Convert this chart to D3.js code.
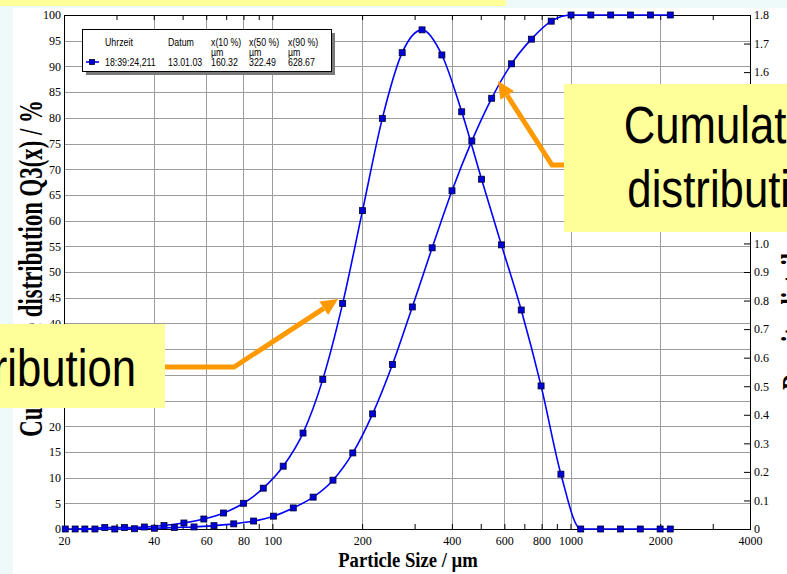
<!DOCTYPE html>
<html>
<head>
<meta charset="utf-8">
<script src="https://cdn.jsdelivr.net/npm/d3@7"></script>
<style>
  body { margin: 0; background: #eef9f9; }
  svg { display: block; }
</style>
</head>
<body>
<svg id="chart" width="787" height="574"></svg>
<script>
// ---- Measured particle size distribution ----
// Cumulative distribution Q3(x), % (left axis), at upper class limits
const cumSizes = [21.8, 25.4, 29.6, 34.5, 40.2, 46.9, 54.6, 63.7, 74.2, 86.5, 100.8, 117.5, 137.0, 159.7,
  186.1, 216.9, 252.8, 294.7, 343.5, 400.4, 466.7, 544.0, 634.1, 739.1, 861.5, 1004, 1170, 1364, 1590, 1854, 2161];
const cumValues = [0, 0, 0, 0.05, 0.15, 0.3, 0.4, 0.65, 1.0, 1.55, 2.5, 4.1, 6.2, 9.5,
  14.8, 22.4, 32.0, 43.2, 54.7, 65.8, 75.5, 83.8, 90.5, 95.3, 98.8, 100, 100, 100, 100, 100, 100];

// Density distribution q3 (right axis), at class midpoints
const densSizes = [20.2, 23.5, 27.4, 31.9, 37.2, 43.3, 50.5, 58.9, 68.6, 80.0, 93.2, 108.7, 126.7, 147.6,
  172.1, 200.6, 233.8, 272.5, 317.7, 370.3, 431.6, 503.1, 586.4, 683.5, 796.7, 928.6, 1082, 1262, 1471, 1714, 1998, 2161];
const densValues = [0, 0, 0.005, 0.005, 0.007, 0.012, 0.021, 0.035, 0.056, 0.090, 0.143, 0.220, 0.336, 0.524,
  0.790, 1.115, 1.438, 1.668, 1.748, 1.660, 1.461, 1.225, 0.995, 0.767, 0.501, 0.192, 0, 0, 0, 0, 0, 0];

// Axis ticks
const xLabelTicks = [20, 40, 60, 80, 100, 200, 400, 600, 800, 1000, 2000, 4000];
const xMinorTicks = [30, 50, 70, 90, 300, 500, 700, 900, 3000];
const xGridValues = [40, 60, 80, 100, 200, 400, 600, 800, 1000, 2000];
const cumTicks = d3.range(0, 101, 5);
const densTicks = d3.range(0, 19).map(i => i / 10);

// Legend table
const legendHeaders = ["Uhrzeit", "Datum", "x(10 %)", "x(50 %)", "x(90 %)"];
const legendUnits = ["", "", "µm", "µm", "µm"];
const legendRow = ["18:39:24,211", "13.01.03", "160.32", "322.49", "628.67"];

// Titles and callouts
const xTitle = "Particle Size / µm";
const leftTitle = "Cumulative distribution Q3(x) / %";
const rightTitle = "Density distribution q3lg(x)";
const calloutLeft = ["Density distribution"];
const calloutRight = ["Cumulative", "distribution"];

// ---- Drawing ----
const W = 787, H = 574;
const plot = { left: 64, right: 750, top: 15, bottom: 529 };
const serif = "'Liberation Serif','Times New Roman',serif";
const sans = "'Liberation Sans',Arial,sans-serif";
const blue = "#0000ff";
const orange = "#ff9900";
const yellow = "#ffff99";

const svg = d3.select("#chart");

// slide background
svg.append("rect").attr("width", W).attr("height", H).attr("fill", "#eef9f9");
svg.append("rect").attr("x", 0).attr("y", 0).attr("width", 506).attr("height", 6).attr("fill", yellow);
svg.append("rect").attr("x", 13).attr("y", 8).attr("width", W - 13).attr("height", H - 8).attr("fill", "#ffffff");

const x = d3.scaleLog().domain([20, 4000]).range([plot.left, plot.right]);
const yL = d3.scaleLinear().domain([0, 100]).range([plot.bottom, plot.top]);
const yR = d3.scaleLinear().domain([0, 1.8]).range([plot.bottom, plot.top]);

// grid
const grid = svg.append("g").attr("stroke", "#9c9c9c").attr("stroke-width", 1);
grid.selectAll("line.h").data(cumTicks.filter(v => v > 0 && v < 100)).join("line")
  .attr("class", "h")
  .attr("x1", plot.left).attr("x2", plot.right)
  .attr("y1", d => Math.round(yL(d)) + 0.5).attr("y2", d => Math.round(yL(d)) + 0.5);
grid.selectAll("line.v").data(xGridValues).join("line")
  .attr("class", "v")
  .attr("y1", plot.top).attr("y2", plot.bottom)
  .attr("x1", d => Math.round(x(d)) + 0.5).attr("x2", d => Math.round(x(d)) + 0.5);

function styleAxis(g, size) {
  g.select(".domain").remove();
  g.selectAll(".tick line").attr("stroke", "#000");
  g.selectAll("text").attr("font-family", serif).attr("font-size", size).attr("fill", "#000");
}

// left axis (Q3)
svg.append("g").attr("transform", `translate(${plot.left},0)`)
  .call(d3.axisLeft(yL).tickValues(cumTicks).tickSize(0).tickPadding(3).tickFormat(d3.format("d")))
  .call(g => styleAxis(g, 12));

// right axis (q3)
svg.append("g").attr("transform", `translate(${plot.right},0)`)
  .call(d3.axisRight(yR).tickValues(densTicks).tickSize(-6).tickPadding(4)
    .tickFormat(d => d === 0 ? "0" : d.toFixed(1)))
  .call(g => styleAxis(g, 12));

// bottom axis labels
svg.append("g").attr("transform", `translate(0,${plot.bottom})`)
  .call(d3.axisBottom(x).tickValues(xLabelTicks).tickSize(0).tickPadding(7).tickFormat(d3.format("d")))
  .call(g => styleAxis(g, 12));

// inward minor ticks on bottom and top
const allXTicks = xMinorTicks.concat(xLabelTicks);
svg.append("g").attr("transform", `translate(0,${plot.bottom})`)
  .call(d3.axisBottom(x).tickValues(allXTicks).tickSize(-5).tickFormat(""))
  .call(g => styleAxis(g, 12));
svg.append("g").attr("transform", `translate(0,${plot.top})`)
  .call(d3.axisTop(x).tickValues(allXTicks).tickSize(-5).tickFormat(""))
  .call(g => styleAxis(g, 12));

// frame
svg.append("rect")
  .attr("x", plot.left + 0.5).attr("y", plot.top + 0.5)
  .attr("width", plot.right - plot.left).attr("height", plot.bottom - plot.top)
  .attr("fill", "none").attr("stroke", "#000").attr("stroke-width", 1);

// series
const cumData = cumSizes.map((s, i) => ({ s, v: cumValues[i] }));
const densData = densSizes.map((s, i) => ({ s, v: densValues[i] }));

function drawSeries(data, yScale) {
  const line = d3.line().x(d => x(d.s)).y(d => yScale(d.v)).curve(d3.curveMonotoneX);
  svg.append("path").datum(data)
    .attr("d", line).attr("fill", "none").attr("stroke", blue).attr("stroke-width", 1.6);
  svg.append("g").selectAll("rect").data(data).join("rect")
    .attr("x", d => x(d.s) - 3).attr("y", d => yScale(d.v) - 3)
    .attr("width", 6).attr("height", 6)
    .attr("fill", "#0000d8").attr("stroke", "#000033").attr("stroke-width", 0.8);
}
drawSeries(densData, yR);
drawSeries(cumData, yL);

// legend
const lg = svg.append("g");
lg.append("rect").attr("x", 86).attr("y", 33).attr("width", 249).attr("height", 42).attr("fill", "#7a7a7a");
lg.append("rect").attr("x", 82.5).attr("y", 29.5).attr("width", 249).attr("height", 42)
  .attr("fill", "#fff").attr("stroke", "#000").attr("stroke-width", 1);
const colX = [105, 168, 211, 249, 288];
function legendText(txt, xx, yy) {
  lg.append("text").attr("transform", `translate(${xx},${yy}) scale(0.8,1)`)
    .attr("font-family", sans).attr("font-size", 11).attr("fill", "#000").text(txt);
}
legendHeaders.forEach((t, i) => legendText(t, colX[i], 45.5));
legendUnits.forEach((t, i) => { if (t) legendText(t, colX[i], 55.5); });
legendRow.forEach((t, i) => legendText(t, colX[i], 65.5));
lg.append("line").attr("x1", 86).attr("x2", 99).attr("y1", 62).attr("y2", 62)
  .attr("stroke", blue).attr("stroke-width", 1.6);
lg.append("rect").attr("x", 89.5).attr("y", 59.5).attr("width", 5).attr("height", 5)
  .attr("fill", "#0000d8").attr("stroke", "#000033").attr("stroke-width", 0.8);

// axis titles
svg.append("text")
  .attr("transform", `translate(408,567) scale(0.91,1)`)
  .attr("text-anchor", "middle").attr("font-family", serif).attr("font-weight", "bold")
  .attr("font-size", 20.5).attr("fill", "#000").text(xTitle);
svg.append("text")
  .attr("transform", `translate(42,268.5) rotate(-90) scale(0.67,1)`)
  .attr("text-anchor", "middle").attr("font-family", serif).attr("font-weight", "bold")
  .attr("font-size", 34).attr("fill", "#000").text(leftTitle);
svg.append("text")
  .attr("transform", `translate(805,390) rotate(-90) scale(0.67,1)`)
  .attr("text-anchor", "start").attr("font-family", serif).attr("font-weight", "bold")
  .attr("font-size", 34).attr("fill", "#000").text(rightTitle);

// callout arrows
function arrow(points) {
  const [p, t] = [points[points.length - 2], points[points.length - 1]];
  const dx = t[0] - p[0], dy = t[1] - p[1], len = Math.hypot(dx, dy);
  const ux = dx / len, uy = dy / len, hl = 17, hw = 8;
  const base = [t[0] - ux * hl, t[1] - uy * hl];
  const pts = points.slice(0, -1).concat([base]);
  svg.append("path").attr("d", d3.line()(pts))
    .attr("fill", "none").attr("stroke", orange).attr("stroke-width", 5).attr("stroke-linejoin", "miter");
  svg.append("path")
    .attr("d", d3.line()([t, [base[0] - uy * hw, base[1] + ux * hw], [base[0] + uy * hw, base[1] - ux * hw]]) + "Z")
    .attr("fill", orange);
}
arrow([[160, 367], [234, 367], [338, 299]]);
arrow([[570, 165], [552, 165], [498, 81]]);

// callout boxes
svg.append("rect").attr("x", -20).attr("y", 324).attr("width", 185).attr("height", 84).attr("fill", yellow);
calloutLeft.forEach((t, i) => {
  svg.append("text").attr("transform", `translate(136,${386 + i * 64}) scale(0.857,1)`)
    .attr("text-anchor", "end").attr("font-family", sans).attr("font-size", 51).attr("fill", "#000").text(t);
});
svg.append("rect").attr("x", 564).attr("y", 84).attr("width", 300).attr("height", 148).attr("fill", yellow);
calloutRight.forEach((t, i) => {
  svg.append("text").attr("transform", `translate(733,${143 + i * 64}) scale(0.857,1)`)
    .attr("text-anchor", "middle").attr("font-family", sans).attr("font-size", 51).attr("fill", "#000").text(t);
});
</script>
</body>
</html>
